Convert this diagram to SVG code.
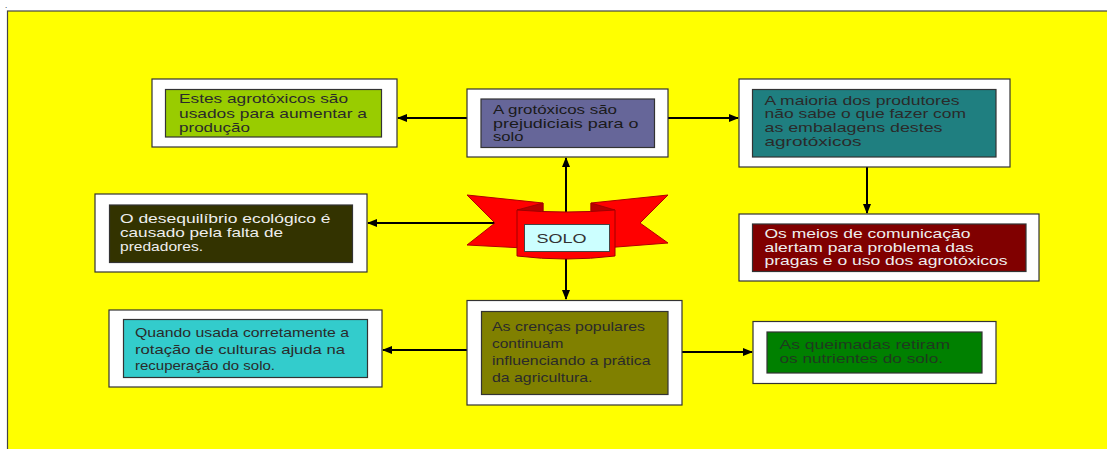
<svg xmlns="http://www.w3.org/2000/svg" width="1107" height="449" viewBox="0 0 1107 449">
<defs>
<marker id="ah" markerWidth="10" markerHeight="8" refX="9" refY="4" orient="auto" markerUnits="userSpaceOnUse">
<path d="M0,0 L10,4 L0,8 Z" fill="#000"/>
</marker>
<style>
.outer{fill:#fff;stroke:#333;stroke-width:1.2}
.inner{stroke:#333;stroke-width:1.2}
.t{font-family:"Liberation Sans",Arial,sans-serif;font-size:13.5px}
.dk{fill:#2a2a2a}
.lt{fill:#eeeeee}
.con line{stroke:#000;stroke-width:2;marker-end:url(#ah)}
</style>
</defs>
<rect x="0" y="0" width="1107" height="449" fill="#fff"/>
<rect x="7.5" y="11" width="1101" height="440" fill="#ffff00" stroke="#444" stroke-width="1.2"/>
<text x="5" y="8" font-family="Liberation Sans, sans-serif" font-size="8" fill="#000">.</text>

<g id="connectors" class="con">
<line x1="467" y1="118" x2="398" y2="118"/>
<line x1="668" y1="118" x2="738" y2="118"/>
<line x1="867" y1="167" x2="867" y2="213"/>
<line x1="566" y1="212" x2="566" y2="158"/>
<line x1="566" y1="256" x2="566" y2="299"/>
<line x1="497" y1="223" x2="368" y2="223"/>
<line x1="467" y1="350" x2="383" y2="350"/>
<line x1="682" y1="352" x2="752" y2="352"/>
</g>

<g id="n1">
<rect class="outer" x="152" y="79" width="245" height="68"/>
<rect class="inner" x="165.5" y="89.5" width="216" height="47.5" fill="#99cc00"/>
<text class="t dk"><tspan x="179" y="103" textLength="169" lengthAdjust="spacingAndGlyphs">Estes agrotóxicos são</tspan><tspan x="179" y="117.5" textLength="188" lengthAdjust="spacingAndGlyphs">usados para aumentar a</tspan><tspan x="179" y="131.5" textLength="71" lengthAdjust="spacingAndGlyphs">produção</tspan></text>
</g>

<g id="n2">
<rect class="outer" x="467" y="89" width="201" height="68"/>
<rect class="inner" x="481" y="99" width="173.5" height="48.5" fill="#666699"/>
<text class="t" fill="#1a1a1a"><tspan x="493" y="114" textLength="124" lengthAdjust="spacingAndGlyphs">A grotóxicos são</tspan><tspan x="493" y="127.5" textLength="145.5" lengthAdjust="spacingAndGlyphs">prejudiciais para o</tspan><tspan x="493" y="141" textLength="30.5" lengthAdjust="spacingAndGlyphs">solo</tspan></text>
</g>

<g id="n3">
<rect class="outer" x="739" y="79" width="271" height="88"/>
<rect class="inner" x="752.5" y="89.5" width="243.5" height="67.5" fill="#1f7f80"/>
<text class="t dk"><tspan x="764.5" y="104.5" textLength="195" lengthAdjust="spacingAndGlyphs">A maioria dos produtores</tspan><tspan x="764.5" y="118" textLength="201.5" lengthAdjust="spacingAndGlyphs">não sabe o que fazer com</tspan><tspan x="764.5" y="132" textLength="178" lengthAdjust="spacingAndGlyphs">as embalagens destes</tspan><tspan x="764.5" y="146" textLength="97" lengthAdjust="spacingAndGlyphs">agrotóxicos</tspan></text>
</g>

<g id="n4">
<rect class="outer" x="739" y="214" width="300" height="67"/>
<rect class="inner" x="752.5" y="224" width="273.5" height="47.5" fill="#800000"/>
<text class="t lt"><tspan x="764.5" y="237.5" textLength="206" lengthAdjust="spacingAndGlyphs">Os meios de comunicação</tspan><tspan x="764.5" y="251.5" textLength="209" lengthAdjust="spacingAndGlyphs">alertam para problema das</tspan><tspan x="764.5" y="265" textLength="243" lengthAdjust="spacingAndGlyphs">pragas e o uso dos agrotóxicos</tspan></text>
</g>

<g id="n5">
<rect class="outer" x="95" y="194" width="272" height="78"/>
<rect class="inner" x="109.5" y="205" width="243" height="57.5" fill="#333300"/>
<text class="t lt"><tspan x="120" y="223" textLength="210.5" lengthAdjust="spacingAndGlyphs">O desequilíbrio ecológico é</tspan><tspan x="120" y="237" textLength="163" lengthAdjust="spacingAndGlyphs">causado pela falta de</tspan><tspan x="120" y="250.5" textLength="83" lengthAdjust="spacingAndGlyphs">predadores.</tspan></text>
</g>

<g id="solo">
<path d="M467,195 L543,203 L543,249 L467,245 L495,223 Z" fill="#ff0000" stroke="#b00000" stroke-width="1"/>
<path d="M668,195 L591,203 L591,249 L668,243 L640,223 Z" fill="#ff0000" stroke="#b00000" stroke-width="1"/>
<path d="M517,210 L543,203 L543,212 Z" fill="#b80000" stroke="#990000" stroke-width="0.8"/>
<path d="M615,210 L591,203 L591,212 Z" fill="#b80000" stroke="#990000" stroke-width="0.8"/>
<path d="M517,210 Q566,214 615,210 L615,256 Q566,262 517,256 Z" fill="#ff0000" stroke="#a00000" stroke-width="1"/>
<rect x="524.5" y="224.5" width="85" height="27" fill="#ccffff" stroke="#444" stroke-width="1"/>
<text x="536.5" y="243" class="t" fill="#333" font-size="14" textLength="50" lengthAdjust="spacingAndGlyphs">SOLO</text>
</g>

<g id="n6">
<rect class="outer" x="467" y="300.5" width="215" height="104.5"/>
<rect class="inner" x="481.5" y="311.5" width="186.5" height="83" fill="#808000"/>
<text class="t dk"><tspan x="492" y="330.5" textLength="153" lengthAdjust="spacingAndGlyphs">As crenças populares</tspan><tspan x="492" y="348" textLength="71.5" lengthAdjust="spacingAndGlyphs">continuam</tspan><tspan x="492" y="364.5" textLength="158.5" lengthAdjust="spacingAndGlyphs">influenciando a prática</tspan><tspan x="492" y="381.5" textLength="100.5" lengthAdjust="spacingAndGlyphs">da agricultura.</tspan></text>
</g>

<g id="n7">
<rect class="outer" x="753" y="321.5" width="243" height="62"/>
<rect class="inner" x="767" y="332" width="215" height="41" fill="#008000"/>
<text class="t" fill="#1f3a1f"><tspan x="779.5" y="349" textLength="170.5" lengthAdjust="spacingAndGlyphs">As queimadas retiram</tspan><tspan x="779.5" y="362.5" textLength="163.5" lengthAdjust="spacingAndGlyphs">os nutrientes do solo.</tspan></text>
</g>

<g id="n8">
<rect class="outer" x="109" y="310" width="273" height="77"/>
<rect class="inner" x="123.5" y="319.5" width="244" height="58" fill="#33cccc"/>
<text class="t dk"><tspan x="135" y="336.5" textLength="214" lengthAdjust="spacingAndGlyphs">Quando usada corretamente a</tspan><tspan x="135" y="354" textLength="210" lengthAdjust="spacingAndGlyphs">rotação de culturas ajuda na</tspan><tspan x="135" y="370" textLength="140" lengthAdjust="spacingAndGlyphs">recuperação do solo.</tspan></text>
</g>
</svg>
